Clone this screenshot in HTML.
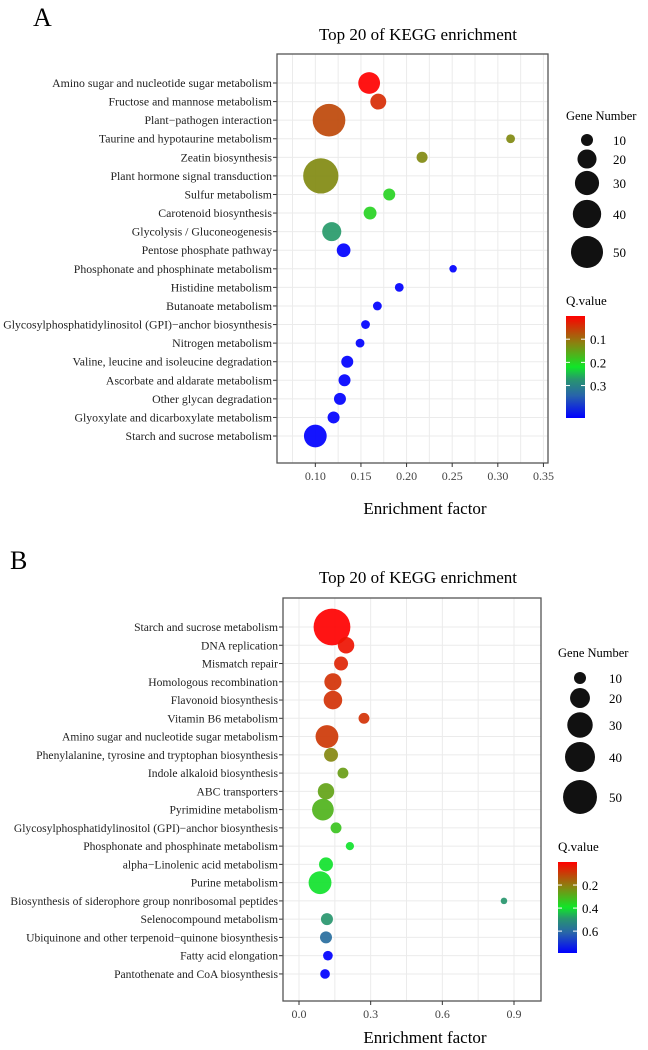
<!DOCTYPE html>
<html><head><meta charset="utf-8"><style>
html,body{margin:0;padding:0;background:#fff;}
svg{display:block;font-family:"Liberation Serif",serif;}
</style></head><body>
<svg id="svg" width="648" height="1050" viewBox="0 0 648 1050"></svg>
<script>
// ---- Panel A data ----
const catsA = ["Amino sugar and nucleotide sugar metabolism","Fructose and mannose metabolism","Plant\u2212pathogen interaction","Taurine and hypotaurine metabolism","Zeatin biosynthesis","Plant hormone signal transduction","Sulfur metabolism","Carotenoid biosynthesis","Glycolysis / Gluconeogenesis","Pentose phosphate pathway","Phosphonate and phosphinate metabolism","Histidine metabolism","Butanoate metabolism","Glycosylphosphatidylinositol (GPI)\u2212anchor biosynthesis","Nitrogen metabolism","Valine, leucine and isoleucine degradation","Ascorbate and aldarate metabolism","Other glycan degradation","Glyoxylate and dicarboxylate metabolism","Starch and sucrose metabolism"];
const richA = [0.159,0.169,0.115,0.314,0.217,0.106,0.181,0.160,0.118,0.131,0.251,0.192,0.168,0.155,0.149,0.135,0.132,0.127,0.120,0.100];
const genesA = [25,15,52,7,9,60,10,11,20,12,6,7,7,7,7,10,10,10,10,27];
const qA = [0.0,0.04,0.065,0.125,0.125,0.125,0.2,0.2,0.27,0.44,0.44,0.44,0.44,0.44,0.44,0.44,0.44,0.44,0.44,0.44];
const ticksA = [0.10,0.15,0.20,0.25,0.30,0.35];
const legendGenes = [10,20,30,40,50];
const qTicksA = [0.1,0.2,0.3];
// ---- Panel B data ----
const catsB = ["Starch and sucrose metabolism","DNA replication","Mismatch repair","Homologous recombination","Flavonoid biosynthesis","Vitamin B6 metabolism","Amino sugar and nucleotide sugar metabolism","Phenylalanine, tyrosine and tryptophan biosynthesis","Indole alkaloid biosynthesis","ABC transporters","Pyrimidine metabolism","Glycosylphosphatidylinositol (GPI)\u2212anchor biosynthesis","Phosphonate and phosphinate metabolism","alpha\u2212Linolenic acid metabolism","Purine metabolism","Biosynthesis of siderophore group nonribosomal peptides","Selenocompound metabolism","Ubiquinone and other terpenoid\u2212quinone biosynthesis","Fatty acid elongation","Pantothenate and CoA biosynthesis"];
const richB = [0.138,0.197,0.176,0.142,0.142,0.272,0.117,0.134,0.184,0.113,0.100,0.155,0.213,0.113,0.088,0.858,0.117,0.113,0.121,0.109];
const genesB = [58,15,12,16,18,9,25,12,9,15,23,9,7,12,25,6,10,10,8,8];
const qB = [0.0,0.03,0.06,0.08,0.08,0.08,0.09,0.22,0.26,0.27,0.3,0.33,0.4,0.4,0.4,0.49,0.49,0.59,0.79,0.79];
const ticksB = [0.0,0.3,0.6,0.9];
const qTicksB = [0.2,0.4,0.6];

const NS="http://www.w3.org/2000/svg";
const svg=document.getElementById('svg');
function mk(tag,attrs,parent,text){const e=document.createElementNS(NS,tag);for(const k in attrs)e.setAttribute(k,attrs[k]);if(text!==undefined)e.textContent=text;(parent||svg).appendChild(e);return e;}
const stops=[[0,[255,0,0]],[0.27,[136,132,16]],[0.5,[16,230,40]],[0.62,[40,150,110]],[0.78,[40,100,170]],[1,[0,0,255]]];
function col(t){t=Math.max(0,Math.min(1,t));for(let i=1;i<stops.length;i++){if(t<=stops[i][0]){const a=stops[i-1],b=stops[i];const f=(t-a[0])/(b[0]-a[0]);const c=a[1].map((v,j)=>Math.round(v+(b[1][j]-v)*f));return `rgb(${c[0]},${c[1]},${c[2]})`;}}return 'rgb(0,0,255)';}

function panel(o){
  const g=mk('g',{});
  
  
  const xs=v=>o.L+(v-o.xmin)/(o.xmax-o.xmin)*(o.R-o.L);
  const ys=i=>o.y0+i*o.dy;
  const rs=n=>Math.sqrt(Math.max(4,o.sa*n+o.sb));
  const lab=mk('text',{x:o.letterX,y:o.letterY,'font-size':26},g,o.letter);
  
  
  const t=mk('text',{x:o.titleX,y:o.titleY,'font-size':17,'text-anchor':'middle'},g,'Top 20 of KEGG enrichment');
  
  
  const step=o.ticks[1]-o.ticks[0];
  for(let v=o.ticks[0]-step/2;v<=o.xmax;v+=step/2){if(v<o.xmin)continue;const x=xs(v);mk('line',{x1:x,x2:x,y1:o.T,y2:o.B,stroke:'#ebebeb','stroke-width':1},g);}
  o.cats.forEach((c,i)=>{const y=ys(i);
    mk('line',{x1:o.L,x2:o.R,y1:y,y2:y,stroke:'#ebebeb','stroke-width':1},g);
    mk('line',{x1:o.L-4,x2:o.L,y1:y,y2:y,stroke:'#333','stroke-width':1},g);
    const tx=mk('text',{x:o.L-5,y:y+4,'font-size':o.fs,'text-anchor':'end',fill:'#222'},g,c);
    
    
  });
  const box=mk('rect',{x:o.L,y:o.T,width:o.R-o.L,height:o.B-o.T,fill:'none',stroke:'#555','stroke-width':1.3},g);
  
  
  o.ticks.forEach(v=>{const x=xs(v);
    mk('line',{x1:x,x2:x,y1:o.B,y2:o.B+4,stroke:'#333'},g);
    const tl=mk('text',{x:x,y:o.B+17,'font-size':12,'text-anchor':'middle',fill:'#444'},g,v.toFixed(o.dec));
    
    
  });
  const at=mk('text',{x:o.axX,y:o.axY,'font-size':17,'text-anchor':'middle'},g,'Enrichment factor');
  
  
  o.cats.forEach((c,i)=>{
    const p=mk('circle',{cx:xs(o.rich[i]),cy:ys(i),r:rs(o.genes[i]),fill:col(o.q[i]/o.qmax),'fill-opacity':0.92},g);
    
    
  });
  const lt=mk('text',{x:o.lgX,y:o.lgTitleY,'font-size':12.5},g,'Gene Number');
  
  
  legendGenes.forEach((n,i)=>{
    const c=mk('circle',{cx:o.lgCx,cy:o.lgYs[i],r:rs(n),fill:'#111'},g);
    
    
    mk('text',{x:o.lgLx,y:o.lgYs[i]+5,'font-size':13},g,String(n));
  });
  const qt=mk('text',{x:o.qX,y:o.qTitleY,'font-size':13},g,'Q.value');
  
  
  const gid='grad'+o.letter;
  const defs=mk('defs',{},g);const lg=mk('linearGradient',{id:gid,x1:0,y1:0,x2:0,y2:1},defs);
  stops.forEach(s=>mk('stop',{offset:s[0],'stop-color':`rgb(${s[1].join(',')})`},lg));
  const cb=mk('rect',{x:o.cbX,y:o.cbT,width:19,height:o.cbB-o.cbT,fill:`url(#${gid})`},g);
  
  
  o.qt.forEach(v=>{const y=o.cbT+v/o.qmax*(o.cbB-o.cbT);
    mk('line',{x1:o.cbX,x2:o.cbX+4,y1:y,y2:y,stroke:'#fff'},g);
    mk('line',{x1:o.cbX+15,x2:o.cbX+19,y1:y,y2:y,stroke:'#fff'},g);
    mk('text',{x:o.cbX+24,y:y+5,'font-size':13},g,String(v));
  });
}
panel({name:'panel-a',letter:'A',letterX:33,letterY:26,titleX:418,titleY:40,fs:11.8,
  L:277,R:548,T:54,B:463,xmin:0.058,xmax:0.355,y0:83,dy:18.58,
  cats:catsA,rich:richA,genes:genesA,q:qA,qmax:0.44,ticks:ticksA,dec:2,sa:5.5,sb:-19,
  axX:425,axY:514,lgX:566,lgTitleY:120,lgCx:587,lgYs:[140,159,183,214,252],lgLx:613,
  qX:566,qTitleY:305,cbX:566,cbT:316,cbB:418,qt:qTicksA});
panel({name:'panel-b',letter:'B',letterX:10,letterY:569,titleX:418,titleY:583,fs:11.6,
  L:283,R:541,T:598,B:1001,xmin:-0.067,xmax:1.013,y0:627,dy:18.26,
  cats:catsB,rich:richB,genes:genesB,q:qB,qmax:0.79,ticks:ticksB,dec:1,sa:6.3,sb:-27,
  axX:425,axY:1043,lgX:558,lgTitleY:657,lgCx:580,lgYs:[678,698,725,757,797],lgLx:609,
  qX:558,qTitleY:851,cbX:558,cbT:862,cbB:953,qt:qTicksB});
</script>
</body></html>
